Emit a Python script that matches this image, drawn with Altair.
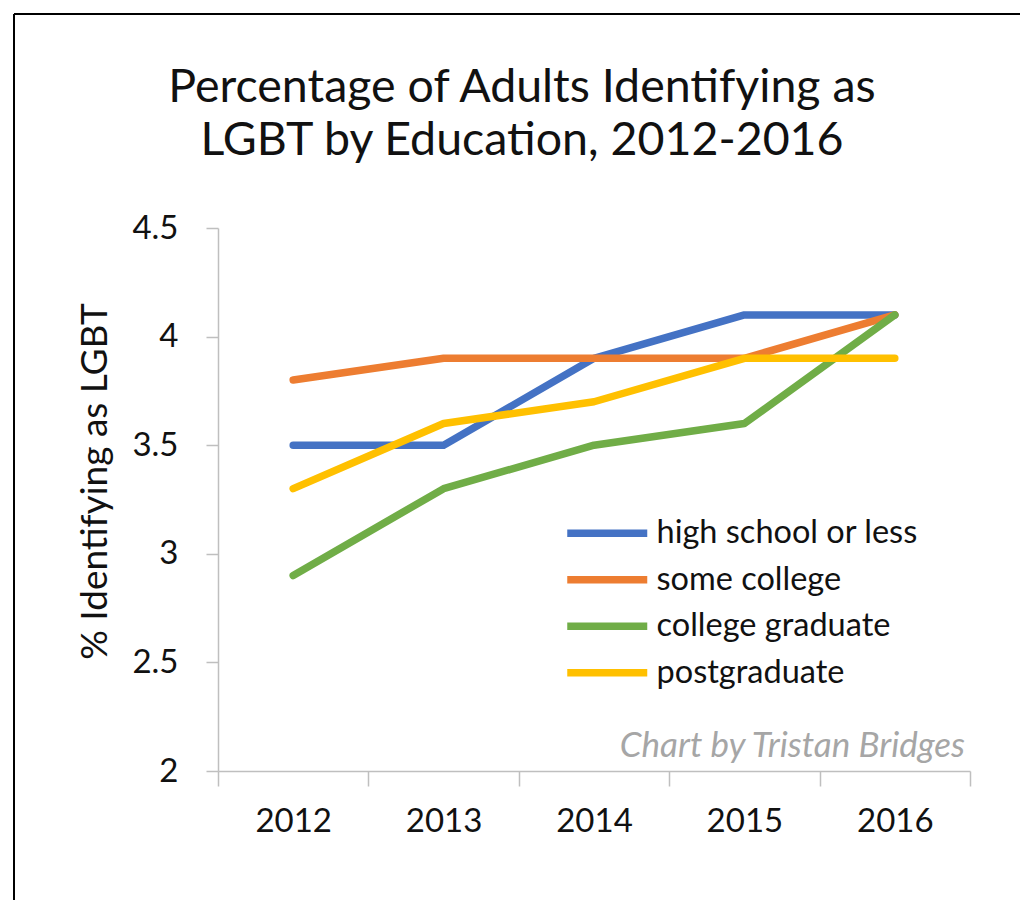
import altair as alt
import pandas as pd

years = ["2012", "2013", "2014", "2015", "2016"]
groups = ["high school or less", "some college", "college graduate", "postgraduate"]
high_school = [3.5, 3.5, 3.9, 4.1, 4.1]
some_college = [3.8, 3.9, 3.9, 3.9, 4.1]
college_grad = [2.9, 3.3, 3.5, 3.6, 4.1]
postgrad = [3.3, 3.6, 3.7, 3.9, 3.9]
colors = ["#4472C4", "#ED7D31", "#70AD47", "#FFC000"]
y_ticks = [2, 2.5, 3, 3.5, 4, 4.5]
title_lines = ["Percentage of Adults Identifying as", "LGBT by Education, 2012-2016"]
y_title = "% Identifying as LGBT"
credit = ["Chart by Tristan Bridges"]

rows = []
for g, vals in zip(groups, [high_school, some_college, college_grad, postgrad]):
    for yr, v in zip(years, vals):
        rows.append({"year": yr, "group": g, "pct": v})
df = pd.DataFrame(rows)

FONT = "Lato"
W, H = 752, 543
PAD_L, PAD_T = 218, 228
AXIS_GRAY = "#bfbfbf"

x_scale = alt.Scale(type="band", domain=years, paddingInner=0, paddingOuter=0)
y_scale = alt.Scale(domain=[2, 4.5], nice=False, zero=False)

x_enc = alt.X(
    "year:O", title=None, scale=x_scale, bandPosition=0.5,
    axis=alt.Axis(tickBand="extent", labelAngle=0, labelFont=FONT, labelFontSize=33,
                  labelColor="#111", labelPadding=19, tickSize=15, tickColor=AXIS_GRAY,
                  domainColor=AXIS_GRAY, domainWidth=1.5, tickWidth=1.5, grid=False),
)
y_enc = alt.Y(
    "pct:Q", scale=y_scale, title=y_title,
    axis=alt.Axis(values=y_ticks, format="~g", labelFont=FONT, labelFontSize=33,
                  labelColor="#111", labelPadding=28, tickSize=12, tickColor=AXIS_GRAY,
                  domainColor=AXIS_GRAY, domainWidth=1.5, tickWidth=1.5, grid=False,
                  titleFont=FONT, titleFontSize=37, titleFontWeight="normal", titleColor="#111",
                  titleAngle=270, titleX=-123, titleY=253, titleAlign="center",
                  titleBaseline="middle"),
)

lines = alt.Chart(df).mark_line(strokeWidth=7.5, strokeCap="round", strokeJoin="round").encode(
    x=x_enc,
    y=y_enc,
    color=alt.Color(
        "group:N",
        scale=alt.Scale(domain=groups, range=colors),
        legend=alt.Legend(title=None, orient="none", legendX=343, legendY=289,
                          symbolType="M-1,0H7", symbolSize=400, symbolStrokeWidth=7.5,
                          labelFont=FONT, labelFontSize=32.5, labelColor="#111",
                          labelOffset=63, labelLimit=500, rowPadding=13.5),
    ),
)

note = alt.Chart(pd.DataFrame({"t": credit})).mark_text(
    align="right", baseline="alphabetic", font=FONT, fontStyle="italic",
    fontSize=35, color="#a6a6a6", dx=-5, dy=-14,
).encode(
    x=alt.XDatum("2016", type="ordinal", bandPosition=1),
    y=alt.YDatum(2, type="quantitative"),
    text="t:N",
)

one = pd.DataFrame({"a": [0]})
frame_top = alt.Chart(one).mark_rule(color="#000", strokeWidth=2).encode(
    x=alt.value(-204), x2=alt.value(1020 - PAD_L), y=alt.value(-214))
frame_left = alt.Chart(one).mark_rule(color="#000", strokeWidth=2).encode(
    x=alt.value(-204), y=alt.value(-214), y2=alt.value(900 - PAD_T))

chart = alt.layer(frame_top, frame_left, lines, note).properties(
    width=W, height=H,
    background="white",
    title=alt.TitleParams(text=title_lines, font=FONT, fontSize=46.5, fontWeight="normal",
                          color="#111", anchor="middle", frame="group", dx=-72,
                          offset=0, dy=151, lineHeight=53),
    autosize=alt.AutoSizeParams(type="none"),
    padding={"left": PAD_L, "top": PAD_T, "right": 1020 - PAD_L - W, "bottom": 900 - PAD_T - H},
).configure_view(stroke="transparent", strokeWidth=0)

chart.save("out.html", embed_options={"renderer": "svg", "actions": False})
